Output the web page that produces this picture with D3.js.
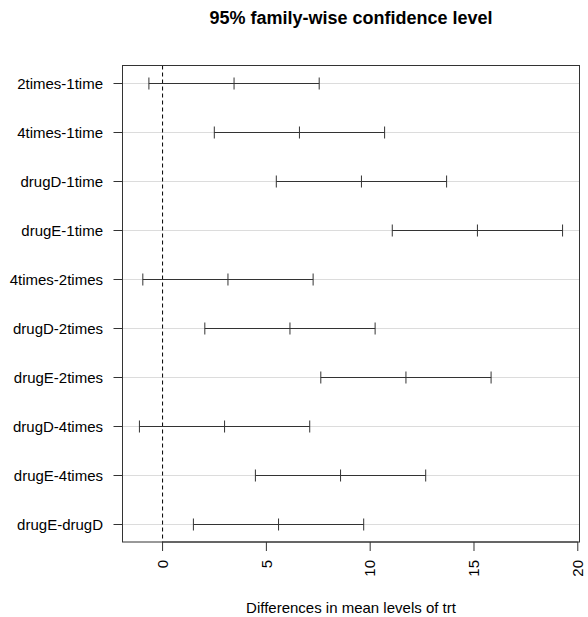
<!DOCTYPE html>
<html><head><meta charset="utf-8">
<script src="https://cdn.jsdelivr.net/npm/d3@7"></script>
<style>body{margin:0;background:#fff}text{font-family:"Liberation Sans",Arial,sans-serif}</style>
</head><body>
<svg id="c" width="588" height="617"></svg>
<script>
const comparisons = ["2times-1time","4times-1time","drugD-1time","drugE-1time","4times-2times","drugD-2times","drugE-2times","drugD-4times","drugE-4times","drugE-drugD"];
const diffs = [3.44300,6.59281,9.57920,15.16555,3.14981,6.13620,11.72255,2.98639,8.57274,5.58635];
const lwr = [-0.6582817,2.4915283,5.4779183,11.0642683,-0.9514717,2.0349183,7.6212683,-1.1148917,4.4714583,1.4850683];
const upr = [7.544282,10.694092,13.680482,19.266832,7.251092,10.237482,15.823832,7.087672,12.674022,9.687632];
const xTicks = [0,5,10,15,20];
const title = "95% family-wise confidence level";
const xTitle = "Differences in mean levels of trt";

const svg = d3.select("#c");
const L=122.5, R=579.5, T=65.5, B=542;
const lo = d3.min(lwr), hi = d3.max(upr), pad=(hi-lo)*0.04;
const x = d3.scaleLinear().domain([lo-pad, hi+pad]).range([L,R]);
const n = comparisons.length;
const ypad = (n-1)*0.04;
const y = d3.scaleLinear().domain([1-ypad, n+ypad]).range([T,B]);

// gridlines
svg.append("g").selectAll("line").data(comparisons).join("line")
  .attr("x1",L).attr("x2",R).attr("y1",(d,i)=>Math.round(y(i+1))+0.5).attr("y2",(d,i)=>Math.round(y(i+1))+0.5)
  .attr("stroke","#dcdcdc").attr("stroke-width",1);

// zero line
svg.append("line").attr("x1",x(0)).attr("x2",x(0)).attr("y1",T).attr("y2",B)
  .attr("stroke","#000").attr("stroke-dasharray","4,3").attr("stroke-width",1);

// error bars
const g = svg.append("g").attr("stroke","#333").attr("stroke-width",1);
comparisons.forEach((c,i)=>{
  const yy = Math.round(y(i+1))+0.5;
  g.append("line").attr("x1",x(lwr[i])).attr("x2",x(upr[i])).attr("y1",yy).attr("y2",yy);
  [lwr[i],diffs[i],upr[i]].forEach(v=>{
    g.append("line").attr("x1",x(v)).attr("x2",x(v)).attr("y1",yy-6).attr("y2",yy+6);
  });
});

// box
svg.append("rect").attr("x",L).attr("y",T).attr("width",R-L).attr("height",B-T)
  .attr("fill","none").attr("stroke","#333").attr("stroke-width",1);

// y axis
const ya = svg.append("g");
comparisons.forEach((c,i)=>{
  const yy = Math.round(y(i+1))+0.5;
  ya.append("line").attr("x1",L-9).attr("x2",L).attr("y1",yy).attr("y2",yy).attr("stroke","#333");
  ya.append("text").attr("x",103).attr("y",yy).attr("dy","0.35em").attr("text-anchor","end")
    .attr("font-size",15).attr("fill","#000").text(c);
});

// x axis
const xa = svg.append("g");
xa.append("line").attr("x1",x(0)).attr("x2",x(20)).attr("y1",B).attr("y2",B).attr("stroke","#333");
xTicks.forEach(t=>{
  xa.append("line").attr("x1",x(t)).attr("x2",x(t)).attr("y1",B).attr("y2",B+9).attr("stroke","#333");
  xa.append("text").attr("transform",`translate(${x(t)},${560}) rotate(-90)`)
    .attr("text-anchor","end").attr("dy","0.35em").attr("font-size",15).attr("fill","#000").text(t);
});

svg.append("text").attr("x",(L+R)/2).attr("y",613).attr("text-anchor","middle")
  .attr("font-size",15).attr("fill","#000").text(xTitle);
svg.append("text").attr("x",(L+R)/2).attr("y",24).attr("text-anchor","middle")
  .attr("font-size",18).attr("font-weight","bold").attr("fill","#000").text(title);
</script>
</body></html>
